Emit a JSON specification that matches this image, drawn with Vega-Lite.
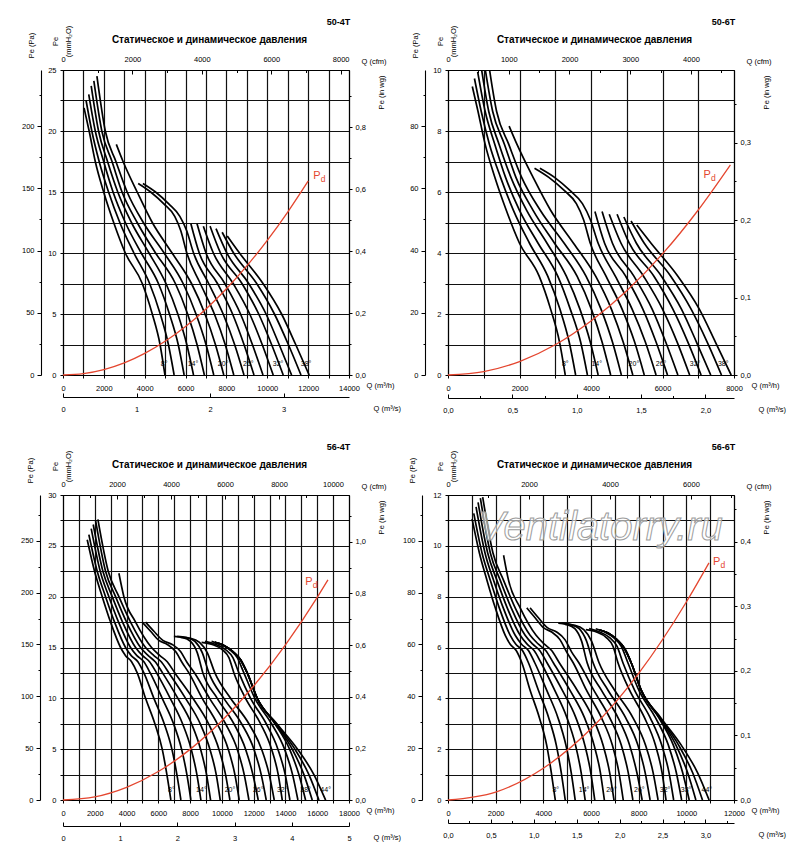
{
  "$schema": "https://vega.github.io/schema/vega-lite/v6.json",
  "background": "white",
  "padding": {"left": 20, "top": 17, "right": 5, "bottom": 5},
  "config": {
    "font": "Liberation Sans",
    "view": {"stroke": null},
    "axis": {
      "labelFont": "Liberation Sans", "titleFont": "Liberation Sans",
      "labelFontSize": 7.5, "titleFontSize": 7.5, "titleFontWeight": "normal",
      "labelColor": "#000", "titleColor": "#000", "domainColor": "#000", "tickColor": "#000",
      "gridColor": "#111111", "gridWidth": 1.2, "domainWidth": 1.1, "tickWidth": 1,
      "labelFlush": false, "labelOverlap": false, "titlePadding": 0
    },
    "text": {"font": "Liberation Sans"}
  },
  "datasets": {
    "c504": [
      {"a":8,"q":1030,"p":21.9},{"a":8,"q":1280,"p":20},{"a":8,"q":1580,"p":17.5},{"a":8,"q":1990,"p":15},{"a":8,"q":2480,"p":12.5},{"a":8,"q":3050,"p":10},{"a":8,"q":3880,"p":7.5},{"a":8,"q":4370,"p":5},{"a":8,"q":4750,"p":2.5},{"a":8,"q":4990,"p":0},
      {"a":10,"q":1130,"p":22.5},{"a":10,"q":1410,"p":20},{"a":10,"q":1770,"p":17.5},{"a":10,"q":2230,"p":15},{"a":10,"q":2780,"p":12.5},{"a":10,"q":3470,"p":10},{"a":10,"q":4240,"p":7.5},{"a":10,"q":4760,"p":5},{"a":10,"q":5160,"p":2.5},{"a":10,"q":5440,"p":0},
      {"a":12,"q":1260,"p":23},{"a":12,"q":1580,"p":20},{"a":12,"q":1990,"p":17.5},{"a":12,"q":2450,"p":15},{"a":12,"q":3050,"p":12.5},{"a":12,"q":3830,"p":10},{"a":12,"q":4670,"p":7.5},{"a":12,"q":5210,"p":5},{"a":12,"q":5640,"p":2.5},{"a":12,"q":5930,"p":0},
      {"a":14,"q":1380,"p":23.7},{"a":14,"q":1740,"p":20},{"a":14,"q":2180,"p":17.5},{"a":14,"q":2680,"p":15},{"a":14,"q":3350,"p":12.5},{"a":14,"q":4210,"p":10},{"a":14,"q":5040,"p":7.5},{"a":14,"q":5620,"p":5},{"a":14,"q":6060,"p":2.5},{"a":14,"q":6390,"p":0},
      {"a":16,"q":1510,"p":24.1},{"a":16,"q":1900,"p":20},{"a":16,"q":2400,"p":17.5},{"a":16,"q":2890,"p":15},{"a":16,"q":3630,"p":12.5},{"a":16,"q":4530,"p":10},{"a":16,"q":5500,"p":7.5},{"a":16,"q":6100,"p":5},{"a":16,"q":6560,"p":2.5},{"a":16,"q":6920,"p":0},
      {"a":18,"q":1660,"p":24.5},{"a":18,"q":2070,"p":20},{"a":18,"q":2590,"p":17.5},{"a":18,"q":3140,"p":15},{"a":18,"q":3930,"p":12.5},{"a":18,"q":4950,"p":10},{"a":18,"q":5880,"p":7.5},{"a":18,"q":6510,"p":5},{"a":18,"q":7000,"p":2.5},{"a":18,"q":7380,"p":0},
      {"a":20,"q":2610,"p":18.9},{"a":20,"q":2940,"p":17.5},{"a":20,"q":3630,"p":15},{"a":20,"q":4370,"p":12.5},{"a":20,"q":5340,"p":10},{"a":20,"q":6290,"p":7.5},{"a":20,"q":6950,"p":5},{"a":20,"q":7460,"p":2.5},{"a":20,"q":7870,"p":0},
      {"a":22,"q":3680,"p":15.7},{"a":22,"q":4290,"p":15},{"a":22,"q":4950,"p":14},{"a":22,"q":5470,"p":13},{"a":22,"q":5770,"p":11.8},{"a":22,"q":6060,"p":10},{"a":22,"q":6720,"p":7.5},{"a":22,"q":7410,"p":5},{"a":22,"q":7940,"p":2.5},{"a":22,"q":8360,"p":0},
      {"a":24,"q":3910,"p":15.7},{"a":24,"q":4530,"p":15},{"a":24,"q":5190,"p":14},{"a":24,"q":5720,"p":13},{"a":24,"q":6060,"p":11.8},{"a":24,"q":6390,"p":10},{"a":24,"q":7130,"p":7.5},{"a":24,"q":7840,"p":5},{"a":24,"q":8400,"p":2.5},{"a":24,"q":8860,"p":0},
      {"a":26,"q":6260,"p":12.4},{"a":26,"q":6670,"p":10},{"a":26,"q":7560,"p":7.5},{"a":26,"q":8300,"p":5},{"a":26,"q":8860,"p":2.5},{"a":26,"q":9350,"p":0},
      {"a":28,"q":6560,"p":12.4},{"a":28,"q":7000,"p":10},{"a":28,"q":7920,"p":7.5},{"a":28,"q":8690,"p":5},{"a":28,"q":9270,"p":2.5},{"a":28,"q":9790,"p":0},
      {"a":30,"q":6870,"p":12.2},{"a":30,"q":7360,"p":10},{"a":30,"q":8330,"p":7.5},{"a":30,"q":9140,"p":5},{"a":30,"q":9750,"p":2.5},{"a":30,"q":10290,"p":0},
      {"a":32,"q":7200,"p":12.2},{"a":32,"q":7710,"p":10},{"a":32,"q":8760,"p":7.5},{"a":32,"q":9580,"p":5},{"a":32,"q":10210,"p":2.5},{"a":32,"q":10780,"p":0},
      {"a":34,"q":7490,"p":12},{"a":34,"q":8020,"p":10},{"a":34,"q":9090,"p":7.5},{"a":34,"q":9940,"p":5},{"a":34,"q":10580,"p":2.5},{"a":34,"q":11190,"p":0},
      {"a":36,"q":7790,"p":11.7},{"a":36,"q":8350,"p":10},{"a":36,"q":9480,"p":7.5},{"a":36,"q":10350,"p":5},{"a":36,"q":11030,"p":2.5},{"a":36,"q":11650,"p":0},
      {"a":38,"q":8040,"p":11.4},{"a":38,"q":8640,"p":10},{"a":38,"q":9790,"p":7.5},{"a":38,"q":10700,"p":5},{"a":38,"q":11390,"p":2.5},{"a":38,"q":12050,"p":0}
    ],
    "c506": [
      {"a":8,"q":680,"p":9.46},{"a":8,"q":840,"p":8.64},{"a":8,"q":1040,"p":7.56},{"a":8,"q":1310,"p":6.48},{"a":8,"q":1630,"p":5.4},{"a":8,"q":2000,"p":4.32},{"a":8,"q":2550,"p":3.24},{"a":8,"q":2870,"p":2.16},{"a":8,"q":3120,"p":1.08},{"a":8,"q":3280,"p":0},
      {"a":10,"q":740,"p":9.72},{"a":10,"q":930,"p":8.64},{"a":10,"q":1160,"p":7.56},{"a":10,"q":1470,"p":6.48},{"a":10,"q":1830,"p":5.4},{"a":10,"q":2280,"p":4.32},{"a":10,"q":2790,"p":3.24},{"a":10,"q":3130,"p":2.16},{"a":10,"q":3390,"p":1.08},{"a":10,"q":3570,"p":0},
      {"a":12,"q":830,"p":9.94},{"a":12,"q":1040,"p":8.64},{"a":12,"q":1310,"p":7.56},{"a":12,"q":1610,"p":6.48},{"a":12,"q":2000,"p":5.4},{"a":12,"q":2520,"p":4.32},{"a":12,"q":3070,"p":3.24},{"a":12,"q":3420,"p":2.16},{"a":12,"q":3710,"p":1.08},{"a":12,"q":3900,"p":0},
      {"a":14,"q":910,"p":10.24},{"a":14,"q":1140,"p":8.64},{"a":14,"q":1430,"p":7.56},{"a":14,"q":1760,"p":6.48},{"a":14,"q":2200,"p":5.4},{"a":14,"q":2770,"p":4.32},{"a":14,"q":3310,"p":3.24},{"a":14,"q":3690,"p":2.16},{"a":14,"q":3980,"p":1.08},{"a":14,"q":4200,"p":0},
      {"a":16,"q":990,"p":10.41},{"a":16,"q":1250,"p":8.64},{"a":16,"q":1580,"p":7.56},{"a":16,"q":1900,"p":6.48},{"a":16,"q":2380,"p":5.4},{"a":16,"q":2980,"p":4.32},{"a":16,"q":3610,"p":3.24},{"a":16,"q":4010,"p":2.16},{"a":16,"q":4310,"p":1.08},{"a":16,"q":4550,"p":0},
      {"a":18,"q":1090,"p":10.58},{"a":18,"q":1360,"p":8.64},{"a":18,"q":1700,"p":7.56},{"a":18,"q":2060,"p":6.48},{"a":18,"q":2580,"p":5.4},{"a":18,"q":3250,"p":4.32},{"a":18,"q":3860,"p":3.24},{"a":18,"q":4280,"p":2.16},{"a":18,"q":4600,"p":1.08},{"a":18,"q":4850,"p":0},
      {"a":20,"q":1710,"p":8.16},{"a":20,"q":1930,"p":7.56},{"a":20,"q":2380,"p":6.48},{"a":20,"q":2870,"p":5.4},{"a":20,"q":3510,"p":4.32},{"a":20,"q":4130,"p":3.24},{"a":20,"q":4570,"p":2.16},{"a":20,"q":4900,"p":1.08},{"a":20,"q":5170,"p":0},
      {"a":22,"q":2420,"p":6.78},{"a":22,"q":2820,"p":6.48},{"a":22,"q":3250,"p":6.05},{"a":22,"q":3590,"p":5.62},{"a":22,"q":3790,"p":5.1},{"a":22,"q":3980,"p":4.32},{"a":22,"q":4420,"p":3.24},{"a":22,"q":4870,"p":2.16},{"a":22,"q":5220,"p":1.08},{"a":22,"q":5490,"p":0},
      {"a":24,"q":2570,"p":6.78},{"a":24,"q":2980,"p":6.48},{"a":24,"q":3410,"p":6.05},{"a":24,"q":3760,"p":5.62},{"a":24,"q":3980,"p":5.1},{"a":24,"q":4200,"p":4.32},{"a":24,"q":4680,"p":3.24},{"a":24,"q":5150,"p":2.16},{"a":24,"q":5520,"p":1.08},{"a":24,"q":5820,"p":0},
      {"a":26,"q":4110,"p":5.36},{"a":26,"q":4380,"p":4.32},{"a":26,"q":4970,"p":3.24},{"a":26,"q":5450,"p":2.16},{"a":26,"q":5820,"p":1.08},{"a":26,"q":6140,"p":0},
      {"a":28,"q":4310,"p":5.36},{"a":28,"q":4600,"p":4.32},{"a":28,"q":5200,"p":3.24},{"a":28,"q":5710,"p":2.16},{"a":28,"q":6090,"p":1.08},{"a":28,"q":6430,"p":0},
      {"a":30,"q":4510,"p":5.27},{"a":30,"q":4840,"p":4.32},{"a":30,"q":5470,"p":3.24},{"a":30,"q":6000,"p":2.16},{"a":30,"q":6410,"p":1.08},{"a":30,"q":6760,"p":0},
      {"a":32,"q":4730,"p":5.27},{"a":32,"q":5070,"p":4.32},{"a":32,"q":5760,"p":3.24},{"a":32,"q":6290,"p":2.16},{"a":32,"q":6710,"p":1.08},{"a":32,"q":7080,"p":0},
      {"a":34,"q":4920,"p":5.18},{"a":34,"q":5270,"p":4.32},{"a":34,"q":5970,"p":3.24},{"a":34,"q":6530,"p":2.16},{"a":34,"q":6950,"p":1.08},{"a":34,"q":7350,"p":0},
      {"a":36,"q":5120,"p":5.05},{"a":36,"q":5490,"p":4.32},{"a":36,"q":6230,"p":3.24},{"a":36,"q":6800,"p":2.16},{"a":36,"q":7250,"p":1.08},{"a":36,"q":7650,"p":0},
      {"a":38,"q":5280,"p":4.92},{"a":38,"q":5680,"p":4.32},{"a":38,"q":6430,"p":3.24},{"a":38,"q":7030,"p":2.16},{"a":38,"q":7480,"p":1.08},{"a":38,"q":7920,"p":0}
    ],
    "c564": [
      {"a":8,"q":1525,"p":25.6},{"a":8,"q":1986,"p":22.5},{"a":8,"q":2469,"p":20},{"a":8,"q":2993,"p":17.5},{"a":8,"q":3623,"p":15},{"a":8,"q":3937,"p":14.2},{"a":8,"q":4315,"p":13.6},{"a":8,"q":4672,"p":12.5},{"a":8,"q":5196,"p":10},{"a":8,"q":5783,"p":7.5},{"a":8,"q":6245,"p":5},{"a":8,"q":6539,"p":2.5},{"a":8,"q":6790,"p":0},
      {"a":10,"q":1629,"p":26.1},{"a":10,"q":2154,"p":22.5},{"a":10,"q":2678,"p":20},{"a":10,"q":3245,"p":17.5},{"a":10,"q":3937,"p":15},{"a":10,"q":4294,"p":14.2},{"a":10,"q":4713,"p":13.6},{"a":10,"q":5091,"p":12.5},{"a":10,"q":5721,"p":10},{"a":10,"q":6371,"p":7.5},{"a":10,"q":6853,"p":5},{"a":10,"q":7168,"p":2.5},{"a":10,"q":7420,"p":0},
      {"a":12,"q":1776,"p":26.7},{"a":12,"q":2343,"p":22.5},{"a":12,"q":2888,"p":20},{"a":12,"q":3497,"p":17.5},{"a":12,"q":4252,"p":15},{"a":12,"q":4651,"p":14.2},{"a":12,"q":5091,"p":13.6},{"a":12,"q":5490,"p":12.5},{"a":12,"q":6245,"p":10},{"a":12,"q":6958,"p":7.5},{"a":12,"q":7462,"p":5},{"a":12,"q":7798,"p":2.5},{"a":12,"q":8049,"p":0},
      {"a":14,"q":1902,"p":27.1},{"a":14,"q":2511,"p":22.5},{"a":14,"q":3098,"p":20},{"a":14,"q":3748,"p":17.5},{"a":14,"q":4567,"p":15},{"a":14,"q":5007,"p":14.2},{"a":14,"q":5448,"p":13.6},{"a":14,"q":5888,"p":12.5},{"a":14,"q":6749,"p":10},{"a":14,"q":7525,"p":7.5},{"a":14,"q":8070,"p":5},{"a":14,"q":8427,"p":2.5},{"a":14,"q":8679,"p":0},
      {"a":16,"q":2049,"p":27.5},{"a":16,"q":2678,"p":22.5},{"a":16,"q":3308,"p":20},{"a":16,"q":4000,"p":17.5},{"a":16,"q":4881,"p":15},{"a":16,"q":5364,"p":14.2},{"a":16,"q":5804,"p":13.6},{"a":16,"q":6266,"p":12.5},{"a":16,"q":7231,"p":10},{"a":16,"q":8091,"p":7.5},{"a":16,"q":8658,"p":5},{"a":16,"q":9035,"p":2.5},{"a":16,"q":9287,"p":0},
      {"a":18,"q":2196,"p":27.6},{"a":18,"q":2846,"p":22.5},{"a":18,"q":3518,"p":20},{"a":18,"q":4252,"p":17.5},{"a":18,"q":5196,"p":15},{"a":18,"q":5721,"p":14.2},{"a":18,"q":6182,"p":13.6},{"a":18,"q":6665,"p":12.5},{"a":18,"q":7714,"p":10},{"a":18,"q":8637,"p":7.5},{"a":18,"q":9245,"p":5},{"a":18,"q":9644,"p":2.5},{"a":18,"q":9896,"p":0},
      {"a":20,"q":3518,"p":22.3},{"a":20,"q":3832,"p":20},{"a":20,"q":4567,"p":17.5},{"a":20,"q":5574,"p":15},{"a":20,"q":6098,"p":14.2},{"a":20,"q":6560,"p":13.6},{"a":20,"q":7042,"p":12.5},{"a":20,"q":8175,"p":10},{"a":20,"q":9161,"p":7.5},{"a":20,"q":9812,"p":5},{"a":20,"q":10231,"p":2.5},{"a":20,"q":10504,"p":0},
      {"a":22,"q":4986,"p":17.5},{"a":22,"q":5511,"p":16.6},{"a":22,"q":6035,"p":15.7},{"a":22,"q":6560,"p":15.3},{"a":22,"q":7084,"p":14.6},{"a":22,"q":7504,"p":13.5},{"a":22,"q":7923,"p":12.5},{"a":22,"q":8763,"p":10},{"a":22,"q":9707,"p":7.5},{"a":22,"q":10399,"p":5},{"a":22,"q":10819,"p":2.5},{"a":22,"q":11091,"p":0},
      {"a":24,"q":5196,"p":17.5},{"a":24,"q":5721,"p":16.6},{"a":24,"q":6287,"p":15.7},{"a":24,"q":6874,"p":15.3},{"a":24,"q":7399,"p":14.6},{"a":24,"q":7819,"p":13.5},{"a":24,"q":8280,"p":12.5},{"a":24,"q":9224,"p":10},{"a":24,"q":10231,"p":7.5},{"a":24,"q":10966,"p":5},{"a":24,"q":11406,"p":2.5},{"a":24,"q":11700,"p":0},
      {"a":26,"q":6979,"p":16.1},{"a":26,"q":7504,"p":16},{"a":26,"q":8028,"p":15.6},{"a":26,"q":8448,"p":14.5},{"a":26,"q":8805,"p":12.5},{"a":26,"q":9707,"p":10},{"a":26,"q":10756,"p":7.5},{"a":26,"q":11490,"p":5},{"a":26,"q":11952,"p":2.5},{"a":26,"q":12287,"p":0},
      {"a":28,"q":7189,"p":16.1},{"a":28,"q":7756,"p":16},{"a":28,"q":8301,"p":15.6},{"a":28,"q":8763,"p":14.5},{"a":28,"q":9182,"p":12.5},{"a":28,"q":10126,"p":10},{"a":28,"q":11238,"p":7.5},{"a":28,"q":12015,"p":5},{"a":28,"q":12476,"p":2.5},{"a":28,"q":12791,"p":0},
      {"a":30,"q":7399,"p":16},{"a":30,"q":8028,"p":15.9},{"a":30,"q":8595,"p":15.5},{"a":30,"q":9077,"p":14.5},{"a":30,"q":9560,"p":12.5},{"a":30,"q":10546,"p":10},{"a":30,"q":11700,"p":7.5},{"a":30,"q":12497,"p":5},{"a":30,"q":12980,"p":2.5},{"a":30,"q":13294,"p":0},
      {"a":32,"q":8721,"p":15.5},{"a":32,"q":9392,"p":15.3},{"a":32,"q":10021,"p":14.8},{"a":32,"q":10441,"p":14},{"a":32,"q":10756,"p":12.5},{"a":32,"q":11490,"p":10},{"a":32,"q":12434,"p":7.5},{"a":32,"q":13126,"p":5},{"a":32,"q":13546,"p":2.5},{"a":32,"q":13798,"p":0},
      {"a":34,"q":8930,"p":15.6},{"a":34,"q":9602,"p":15.3},{"a":34,"q":10231,"p":14.8},{"a":34,"q":10693,"p":14},{"a":34,"q":11070,"p":12.5},{"a":34,"q":11805,"p":10},{"a":34,"q":12791,"p":7.5},{"a":34,"q":13525,"p":5},{"a":34,"q":13987,"p":2.5},{"a":34,"q":14280,"p":0},
      {"a":36,"q":9350,"p":15.6},{"a":36,"q":9917,"p":15.3},{"a":36,"q":10483,"p":14.8},{"a":36,"q":10966,"p":14},{"a":36,"q":11385,"p":12.5},{"a":36,"q":12077,"p":10},{"a":36,"q":13126,"p":7.5},{"a":36,"q":13945,"p":5},{"a":36,"q":14448,"p":2.5},{"a":36,"q":14784,"p":0},
      {"a":38,"q":9560,"p":15.5},{"a":38,"q":10126,"p":15.2},{"a":38,"q":10693,"p":14.6},{"a":38,"q":11175,"p":13.8},{"a":38,"q":11595,"p":12.5},{"a":38,"q":12224,"p":10},{"a":38,"q":13336,"p":7.5},{"a":38,"q":14259,"p":5},{"a":38,"q":14847,"p":2.5},{"a":38,"q":15266,"p":0},
      {"a":40,"q":9560,"p":15.5},{"a":40,"q":10126,"p":15.2},{"a":40,"q":10693,"p":14.6},{"a":40,"q":11175,"p":13.8},{"a":40,"q":11595,"p":12.5},{"a":40,"q":12224,"p":10},{"a":40,"q":13378,"p":7.5},{"a":40,"q":14427,"p":5},{"a":40,"q":15162,"p":2.5},{"a":40,"q":15686,"p":0},
      {"a":42,"q":9560,"p":15.5},{"a":42,"q":10126,"p":15.2},{"a":42,"q":10693,"p":14.6},{"a":42,"q":11175,"p":13.8},{"a":42,"q":11595,"p":12.5},{"a":42,"q":12224,"p":10},{"a":42,"q":13420,"p":7.5},{"a":42,"q":14595,"p":5},{"a":42,"q":15476,"p":2.5},{"a":42,"q":16106,"p":0},
      {"a":44,"q":9560,"p":15.5},{"a":44,"q":10126,"p":15.2},{"a":44,"q":10693,"p":14.6},{"a":44,"q":11175,"p":13.8},{"a":44,"q":11595,"p":12.5},{"a":44,"q":12224,"p":10},{"a":44,"q":13462,"p":7.5},{"a":44,"q":14763,"p":5},{"a":44,"q":15791,"p":2.5},{"a":44,"q":16525,"p":0}
    ],
    "c566": [
      {"a":8,"q":1011,"p":11.06},{"a":8,"q":1317,"p":9.72},{"a":8,"q":1637,"p":8.64},{"a":8,"q":1984,"p":7.56},{"a":8,"q":2402,"p":6.48},{"a":8,"q":2610,"p":6.13},{"a":8,"q":2861,"p":5.88},{"a":8,"q":3098,"p":5.4},{"a":8,"q":3445,"p":4.32},{"a":8,"q":3834,"p":3.24},{"a":8,"q":4140,"p":2.16},{"a":8,"q":4335,"p":1.08},{"a":8,"q":4502,"p":0},
      {"a":10,"q":1080,"p":11.28},{"a":10,"q":1428,"p":9.72},{"a":10,"q":1776,"p":8.64},{"a":10,"q":2151,"p":7.56},{"a":10,"q":2610,"p":6.48},{"a":10,"q":2847,"p":6.13},{"a":10,"q":3125,"p":5.88},{"a":10,"q":3375,"p":5.4},{"a":10,"q":3793,"p":4.32},{"a":10,"q":4224,"p":3.24},{"a":10,"q":4544,"p":2.16},{"a":10,"q":4752,"p":1.08},{"a":10,"q":4919,"p":0},
      {"a":12,"q":1177,"p":11.53},{"a":12,"q":1553,"p":9.72},{"a":12,"q":1915,"p":8.64},{"a":12,"q":2318,"p":7.56},{"a":12,"q":2819,"p":6.48},{"a":12,"q":3084,"p":6.13},{"a":12,"q":3375,"p":5.88},{"a":12,"q":3640,"p":5.4},{"a":12,"q":4140,"p":4.32},{"a":12,"q":4613,"p":3.24},{"a":12,"q":4947,"p":2.16},{"a":12,"q":5170,"p":1.08},{"a":12,"q":5336,"p":0},
      {"a":14,"q":1261,"p":11.71},{"a":14,"q":1665,"p":9.72},{"a":14,"q":2054,"p":8.64},{"a":14,"q":2485,"p":7.56},{"a":14,"q":3028,"p":6.48},{"a":14,"q":3320,"p":6.13},{"a":14,"q":3612,"p":5.88},{"a":14,"q":3904,"p":5.4},{"a":14,"q":4475,"p":4.32},{"a":14,"q":4989,"p":3.24},{"a":14,"q":5350,"p":2.16},{"a":14,"q":5587,"p":1.08},{"a":14,"q":5754,"p":0},
      {"a":16,"q":1358,"p":11.88},{"a":16,"q":1776,"p":9.72},{"a":16,"q":2193,"p":8.64},{"a":16,"q":2652,"p":7.56},{"a":16,"q":3236,"p":6.48},{"a":16,"q":3556,"p":6.13},{"a":16,"q":3848,"p":5.88},{"a":16,"q":4154,"p":5.4},{"a":16,"q":4794,"p":4.32},{"a":16,"q":5364,"p":3.24},{"a":16,"q":5740,"p":2.16},{"a":16,"q":5990,"p":1.08},{"a":16,"q":6157,"p":0},
      {"a":18,"q":1456,"p":11.92},{"a":18,"q":1887,"p":9.72},{"a":18,"q":2332,"p":8.64},{"a":18,"q":2819,"p":7.56},{"a":18,"q":3445,"p":6.48},{"a":18,"q":3793,"p":6.13},{"a":18,"q":4099,"p":5.88},{"a":18,"q":4419,"p":5.4},{"a":18,"q":5114,"p":4.32},{"a":18,"q":5726,"p":3.24},{"a":18,"q":6129,"p":2.16},{"a":18,"q":6394,"p":1.08},{"a":18,"q":6561,"p":0},
      {"a":20,"q":2332,"p":9.63},{"a":20,"q":2541,"p":8.64},{"a":20,"q":3028,"p":7.56},{"a":20,"q":3696,"p":6.48},{"a":20,"q":4043,"p":6.13},{"a":20,"q":4349,"p":5.88},{"a":20,"q":4669,"p":5.4},{"a":20,"q":5420,"p":4.32},{"a":20,"q":6074,"p":3.24},{"a":20,"q":6505,"p":2.16},{"a":20,"q":6783,"p":1.08},{"a":20,"q":6964,"p":0},
      {"a":22,"q":3306,"p":7.56},{"a":22,"q":3654,"p":7.17},{"a":22,"q":4001,"p":6.78},{"a":22,"q":4349,"p":6.61},{"a":22,"q":4697,"p":6.31},{"a":22,"q":4975,"p":5.83},{"a":22,"q":5253,"p":5.4},{"a":22,"q":5810,"p":4.32},{"a":22,"q":6436,"p":3.24},{"a":22,"q":6895,"p":2.16},{"a":22,"q":7173,"p":1.08},{"a":22,"q":7353,"p":0},
      {"a":24,"q":3445,"p":7.56},{"a":24,"q":3793,"p":7.17},{"a":24,"q":4168,"p":6.78},{"a":24,"q":4557,"p":6.61},{"a":24,"q":4906,"p":6.31},{"a":24,"q":5184,"p":5.83},{"a":24,"q":5490,"p":5.4},{"a":24,"q":6116,"p":4.32},{"a":24,"q":6783,"p":3.24},{"a":24,"q":7270,"p":2.16},{"a":24,"q":7562,"p":1.08},{"a":24,"q":7757,"p":0},
      {"a":26,"q":4627,"p":6.96},{"a":26,"q":4975,"p":6.91},{"a":26,"q":5323,"p":6.74},{"a":26,"q":5601,"p":6.26},{"a":26,"q":5838,"p":5.4},{"a":26,"q":6436,"p":4.32},{"a":26,"q":7131,"p":3.24},{"a":26,"q":7618,"p":2.16},{"a":26,"q":7924,"p":1.08},{"a":26,"q":8146,"p":0},
      {"a":28,"q":4766,"p":6.96},{"a":28,"q":5142,"p":6.91},{"a":28,"q":5504,"p":6.74},{"a":28,"q":5810,"p":6.26},{"a":28,"q":6088,"p":5.4},{"a":28,"q":6714,"p":4.32},{"a":28,"q":7451,"p":3.24},{"a":28,"q":7966,"p":2.16},{"a":28,"q":8272,"p":1.08},{"a":28,"q":8480,"p":0},
      {"a":30,"q":4906,"p":6.91},{"a":30,"q":5323,"p":6.87},{"a":30,"q":5698,"p":6.7},{"a":30,"q":6018,"p":6.26},{"a":30,"q":6338,"p":5.4},{"a":30,"q":6992,"p":4.32},{"a":30,"q":7757,"p":3.24},{"a":30,"q":8286,"p":2.16},{"a":30,"q":8606,"p":1.08},{"a":30,"q":8814,"p":0},
      {"a":32,"q":5782,"p":6.7},{"a":32,"q":6227,"p":6.61},{"a":32,"q":6644,"p":6.39},{"a":32,"q":6922,"p":6.05},{"a":32,"q":7131,"p":5.4},{"a":32,"q":7618,"p":4.32},{"a":32,"q":8244,"p":3.24},{"a":32,"q":8703,"p":2.16},{"a":32,"q":8981,"p":1.08},{"a":32,"q":9148,"p":0},
      {"a":34,"q":5921,"p":6.74},{"a":34,"q":6366,"p":6.61},{"a":34,"q":6783,"p":6.39},{"a":34,"q":7089,"p":6.05},{"a":34,"q":7339,"p":5.4},{"a":34,"q":7827,"p":4.32},{"a":34,"q":8480,"p":3.24},{"a":34,"q":8967,"p":2.16},{"a":34,"q":9273,"p":1.08},{"a":34,"q":9468,"p":0},
      {"a":36,"q":6199,"p":6.74},{"a":36,"q":6575,"p":6.61},{"a":36,"q":6950,"p":6.39},{"a":36,"q":7270,"p":6.05},{"a":36,"q":7548,"p":5.4},{"a":36,"q":8007,"p":4.32},{"a":36,"q":8703,"p":3.24},{"a":36,"q":9245,"p":2.16},{"a":36,"q":9579,"p":1.08},{"a":36,"q":9802,"p":0},
      {"a":38,"q":6338,"p":6.7},{"a":38,"q":6714,"p":6.57},{"a":38,"q":7089,"p":6.31},{"a":38,"q":7409,"p":5.96},{"a":38,"q":7687,"p":5.4},{"a":38,"q":8105,"p":4.32},{"a":38,"q":8842,"p":3.24},{"a":38,"q":9454,"p":2.16},{"a":38,"q":9844,"p":1.08},{"a":38,"q":10121,"p":0},
      {"a":40,"q":6338,"p":6.7},{"a":40,"q":6714,"p":6.57},{"a":40,"q":7089,"p":6.31},{"a":40,"q":7409,"p":5.96},{"a":40,"q":7687,"p":5.4},{"a":40,"q":8105,"p":4.32},{"a":40,"q":8870,"p":3.24},{"a":40,"q":9565,"p":2.16},{"a":40,"q":10052,"p":1.08},{"a":40,"q":10400,"p":0},
      {"a":42,"q":6338,"p":6.7},{"a":42,"q":6714,"p":6.57},{"a":42,"q":7089,"p":6.31},{"a":42,"q":7409,"p":5.96},{"a":42,"q":7687,"p":5.4},{"a":42,"q":8105,"p":4.32},{"a":42,"q":8897,"p":3.24},{"a":42,"q":9676,"p":2.16},{"a":42,"q":10261,"p":1.08},{"a":42,"q":10678,"p":0},
      {"a":44,"q":6338,"p":6.7},{"a":44,"q":6714,"p":6.57},{"a":44,"q":7089,"p":6.31},{"a":44,"q":7409,"p":5.96},{"a":44,"q":7687,"p":5.4},{"a":44,"q":8105,"p":4.32},{"a":44,"q":8925,"p":3.24},{"a":44,"q":9788,"p":2.16},{"a":44,"q":10469,"p":1.08},{"a":44,"q":10956,"p":0}
    ],
    "pd504": [{"q":0,"p":0},{"q":1000,"p":0.11},{"q":2000,"p":0.44},{"q":3000,"p":0.99},{"q":4000,"p":1.77},{"q":5000,"p":2.76},{"q":6000,"p":3.97},{"q":7000,"p":5.41},{"q":8000,"p":7.07},{"q":9000,"p":8.94},{"q":10000,"p":11.04},{"q":11000,"p":13.36},{"q":12000,"p":15.9}],
    "pd506": [{"q":0,"p":0},{"q":1000,"p":0.11},{"q":2000,"p":0.44},{"q":3000,"p":0.99},{"q":4000,"p":1.77},{"q":5000,"p":2.76},{"q":6000,"p":3.97},{"q":7000,"p":5.41},{"q":7900,"p":6.89}],
    "pd564": [{"q":0,"p":0},{"q":2000,"p":0.31},{"q":4000,"p":1.25},{"q":6000,"p":2.8},{"q":8000,"p":4.98},{"q":10000,"p":7.79},{"q":12000,"p":11.21},{"q":14000,"p":15.26},{"q":16000,"p":19.93},{"q":16680,"p":21.66}],
    "pd566": [{"q":0,"p":0},{"q":2000,"p":0.31},{"q":4000,"p":1.25},{"q":6000,"p":2.8},{"q":8000,"p":4.98},{"q":10000,"p":7.79},{"q":10950,"p":9.33}],
    "l504": [{"t":"8°","q":4950,"p":0.9},{"t":"14°","q":6360,"p":0.9},{"t":"20°","q":7840,"p":0.9},{"t":"26°","q":9070,"p":0.9},{"t":"32°","q":10530,"p":0.9},{"t":"38°","q":11900,"p":0.9}],
    "l506": [{"t":"8°","q":3280,"p":0.35},{"t":"14°","q":4160,"p":0.35},{"t":"20°","q":5200,"p":0.35},{"t":"26°","q":5960,"p":0.35},{"t":"32°","q":6910,"p":0.35},{"t":"38°","q":7700,"p":0.35}],
    "l564": [{"t":"8°","q":6820,"p":1},{"t":"14°","q":8710,"p":1},{"t":"20°","q":10510,"p":1},{"t":"26°","q":12290,"p":1},{"t":"32°","q":13800,"p":1},{"t":"38°","q":15270,"p":1},{"t":"44°","q":16530,"p":1}],
    "l566": [{"t":"8°","q":4520,"p":0.4},{"t":"14°","q":5710,"p":0.4},{"t":"20°","q":6860,"p":0.4},{"t":"26°","q":8030,"p":0.4},{"t":"32°","q":9110,"p":0.4},{"t":"38°","q":9990,"p":0.4},{"t":"44°","q":10860,"p":0.4}],
    "pl504": [{"q":12250,"p":16.3}],
    "pl506": [{"q":7150,"p":6.55}],
    "pl564": [{"q":15250,"p":21.4}],
    "pl566": [{"q":11120,"p":9.35}],
    "wm566": [{"t":"Ventilatorry.ru","q":6400,"p":10.7}]
  },
  "columns": 2,
  "bounds": "flush",
  "spacing": {"row": 120, "column": 99},
  "concat": [
    {
      "width": 286, "height": 305,
      "resolve": {"scale": {"x": "independent", "y": "independent"}},
      "layer": [
        {"data": {"name": "c504"},
         "mark": {"type": "line", "color": "#000", "strokeWidth": 1.7, "interpolate": "monotone", "clip": true},
         "encoding": {
           "x": {"field": "q", "type": "quantitative", "scale": {"domain": [0, 14000], "nice": false},
             "axis": {"orient": "bottom", "values": [0,1000,2000,3000,4000,5000,6000,7000,8000,9000,10000,11000,12000,13000,14000], "format": "d", "labelExpr": "datum.value % 2000 == 0 ? datum.label : ''", "grid": true, "tickSize": 3, "labelPadding": 6, "title": "Q (m³/h)", "titleX": 303, "titleY": 10, "titleAlign": "left", "titleBaseline": "middle", "titleAngle": 0}},
           "y": {"field": "p", "type": "quantitative", "scale": {"domain": [0, 25], "nice": false},
             "axis": {"orient": "left", "values": [0,2.5,5,7.5,10,12.5,15,17.5,20,22.5,25], "labelExpr": "datum.value % 5 == 0 ? datum.label : ''", "grid": true, "tickSize": 3, "labelPadding": 4, "title": ["Pe", "(mmH₂O)"], "titleAngle": -90, "titleX": -8, "titleY": -29, "titleAlign": "center", "titleBaseline": "middle", "titleLineHeight": 13}},
           "detail": {"field": "a", "type": "nominal"}
         }},
        {"data": {"name": "pd504"},
         "mark": {"type": "line", "color": "#e4462f", "strokeWidth": 1.3, "interpolate": "monotone"},
         "encoding": {
           "x": {"field": "q", "type": "quantitative", "scale": {"domain": [0, 14000], "nice": false}, "axis": null},
           "y": {"field": "p", "type": "quantitative", "scale": {"domain": [0, 25], "nice": false}, "axis": null}
         }},
        {"data": {"name": "l504"},
         "mark": {"type": "text", "fontSize": 7, "align": "center", "baseline": "middle", "color": "#000"},
         "encoding": {
           "x": {"field": "q", "type": "quantitative", "scale": {"domain": [0, 14000], "nice": false}, "axis": null},
           "y": {"field": "p", "type": "quantitative", "scale": {"domain": [0, 25], "nice": false}, "axis": null},
           "text": {"field": "t"}
         }},
        {"data": {"name": "pl504"},
         "mark": {"type": "text", "text": "P", "fontSize": 11, "align": "left", "baseline": "middle", "color": "#e4462f"},
         "encoding": {
           "x": {"field": "q", "type": "quantitative", "scale": {"domain": [0, 14000], "nice": false}, "axis": null},
           "y": {"field": "p", "type": "quantitative", "scale": {"domain": [0, 25], "nice": false}, "axis": null}
         }},
        {"data": {"name": "pl504"},
         "mark": {"type": "text", "text": "d", "fontSize": 8.5, "align": "left", "baseline": "middle", "dx": 7.5, "dy": 3, "color": "#e4462f"},
         "encoding": {
           "x": {"field": "q", "type": "quantitative", "scale": {"domain": [0, 14000], "nice": false}, "axis": null},
           "y": {"field": "p", "type": "quantitative", "scale": {"domain": [0, 25], "nice": false}, "axis": null}
         }},
        {"data": {"values": [{}]}, "mark": {"type": "point", "opacity": 0},
         "encoding": {
           "x": {"datum": 0, "type": "quantitative", "scale": {"domain": [0, 1]}, "axis": null},
           "y": {"datum": 0, "type": "quantitative", "scale": {"domain": [0, 245.17], "nice": false},
           "axis": {"orient": "left", "offset": 22, "values": [0,25,50,75,100,125,150,175,200,225], "labelExpr": "datum.value % 50 == 0 ? datum.label : ''", "tickSize": {"condition": {"test": "datum.value % 50 == 0", "value": 4}, "value": 2}, "labelPadding": 3, "grid": false, "title": "Pe (Pa)", "titleAngle": -90, "titleX": -10, "titleY": -25, "titleAlign": "center", "titleBaseline": "middle"}}}},
        {"data": {"values": [{}]}, "mark": {"type": "point", "opacity": 0},
         "encoding": {
           "x": {"datum": 0, "type": "quantitative", "scale": {"domain": [0, 1]}, "axis": null},
           "y": {"datum": 0, "type": "quantitative", "scale": {"domain": [0, 0.98425], "nice": false},
           "axis": {"orient": "right", "values": [0,0.1,0.2,0.3,0.4,0.5,0.6,0.7,0.8,0.9], "labelExpr": "round(datum.value*10) % 2 == 0 ? replace(format(datum.value, '.1f'), '.', ',') : ''", "tickSize": {"condition": {"test": "round(datum.value*10) % 2 == 0", "value": 3}, "value": 2}, "labelPadding": 3, "grid": false, "title": "Pe (in wg)", "titleAngle": -90, "titleX": 32, "titleY": 22, "titleAlign": "center", "titleBaseline": "middle"}}}},
        {"data": {"values": [{}]}, "mark": {"type": "point", "opacity": 0},
         "encoding": {
           "y": {"datum": 0, "type": "quantitative", "scale": {"domain": [0, 1]}, "axis": null},
           "x": {"datum": 0, "type": "quantitative", "scale": {"domain": [0, 8240], "nice": false},
           "axis": {"orient": "top", "values": [0,1000,2000,3000,4000,5000,6000,7000,8000], "format": "d", "labelExpr": "datum.value % 2000 == 0 ? datum.label : ''", "tickSize": {"condition": {"test": "datum.value % 2000 == 0", "value": -4}, "value": -2.5}, "labelPadding": 11, "grid": false, "title": "Q (cfm)", "titleX": 298, "titleY": -9, "titleAlign": "left", "titleBaseline": "middle"}}}},
        {"data": {"values": [{}]}, "mark": {"type": "point", "opacity": 0},
         "encoding": {
           "y": {"datum": 0, "type": "quantitative", "scale": {"domain": [0, 1]}, "axis": null},
           "x": {"datum": 0, "type": "quantitative", "scale": {"domain": [0, 3.8889], "nice": false},
           "axis": {"orient": "bottom", "offset": 22, "values": [0,0.5,1,1.5,2,2.5,3,3.5], "format": "d", "labelExpr": "datum.value % 1 == 0 ? datum.label : ''", "tickSize": {"condition": {"test": "datum.value % 1 == 0", "value": -4}, "value": -2.5}, "labelPadding": 12, "grid": false, "title": "Q (m³/s)", "titleX": 310, "titleY": 11, "titleAlign": "left", "titleBaseline": "middle"}}}},
        {"data": {"values": [{}]}, "mark": {"type": "point", "opacity": 0},
         "encoding": {
           "y": {"datum": 0, "type": "quantitative", "scale": {"domain": [0, 1]}, "axis": null},
           "x": {"datum": 0, "type": "quantitative", "scale": {"domain": [0, 1], "nice": false},
           "axis": {"orient": "top", "labels": false, "ticks": false, "domain": false, "grid": false, "title": "50-4T", "titleX": 275, "titleY": -49, "titleFontSize": 9, "titleFontWeight": "bold", "titleAlign": "center", "titleBaseline": "middle"}}}},
        {"data": {"values": [{}]}, "mark": {"type": "point", "opacity": 0},
         "encoding": {
           "y": {"datum": 0, "type": "quantitative", "scale": {"domain": [0, 1]}, "axis": null},
           "x": {"datum": 0, "type": "quantitative", "scale": {"domain": [0, 2], "nice": false},
           "axis": {"orient": "top", "labels": false, "ticks": false, "domain": false, "grid": false, "title": "Статическое и динамическое давления", "titleX": 146, "titleY": -31, "titleFontSize": 10, "titleFontWeight": "bold", "titleAlign": "center", "titleBaseline": "middle"}}}}
      ]
    },
    {
      "width": 286, "height": 305,
      "resolve": {"scale": {"x": "independent", "y": "independent"}},
      "layer": [
        {"data": {"name": "c506"},
         "mark": {"type": "line", "color": "#000", "strokeWidth": 1.7, "interpolate": "monotone", "clip": true},
         "encoding": {
           "x": {"field": "q", "type": "quantitative", "scale": {"domain": [0, 8000], "nice": false},
             "axis": {"orient": "bottom", "values": [0,1000,2000,3000,4000,5000,6000,7000,8000], "format": "d", "labelExpr": "datum.value % 2000 == 0 ? datum.label : ''", "grid": true, "tickSize": 3, "labelPadding": 6, "title": "Q (m³/h)", "titleX": 303, "titleY": 10, "titleAlign": "left", "titleBaseline": "middle", "titleAngle": 0}},
           "y": {"field": "p", "type": "quantitative", "scale": {"domain": [0, 10], "nice": false},
             "axis": {"orient": "left", "values": [0,1,2,3,4,5,6,7,8,9,10], "labelExpr": "datum.value % 2 == 0 ? datum.label : ''", "grid": true, "tickSize": 3, "labelPadding": 4, "title": ["Pe", "(mmH₂O)"], "titleAngle": -90, "titleX": -8, "titleY": -29, "titleAlign": "center", "titleBaseline": "middle", "titleLineHeight": 13}},
           "detail": {"field": "a", "type": "nominal"}
         }},
        {"data": {"name": "pd506"},
         "mark": {"type": "line", "color": "#e4462f", "strokeWidth": 1.3, "interpolate": "monotone"},
         "encoding": {
           "x": {"field": "q", "type": "quantitative", "scale": {"domain": [0, 8000], "nice": false}, "axis": null},
           "y": {"field": "p", "type": "quantitative", "scale": {"domain": [0, 10], "nice": false}, "axis": null}
         }},
        {"data": {"name": "l506"},
         "mark": {"type": "text", "fontSize": 7, "align": "center", "baseline": "middle", "color": "#000"},
         "encoding": {
           "x": {"field": "q", "type": "quantitative", "scale": {"domain": [0, 8000], "nice": false}, "axis": null},
           "y": {"field": "p", "type": "quantitative", "scale": {"domain": [0, 10], "nice": false}, "axis": null},
           "text": {"field": "t"}
         }},
        {"data": {"name": "pl506"},
         "mark": {"type": "text", "text": "P", "fontSize": 11, "align": "left", "baseline": "middle", "color": "#e4462f"},
         "encoding": {
           "x": {"field": "q", "type": "quantitative", "scale": {"domain": [0, 8000], "nice": false}, "axis": null},
           "y": {"field": "p", "type": "quantitative", "scale": {"domain": [0, 10], "nice": false}, "axis": null}
         }},
        {"data": {"name": "pl506"},
         "mark": {"type": "text", "text": "d", "fontSize": 8.5, "align": "left", "baseline": "middle", "dx": 7.5, "dy": 3, "color": "#e4462f"},
         "encoding": {
           "x": {"field": "q", "type": "quantitative", "scale": {"domain": [0, 8000], "nice": false}, "axis": null},
           "y": {"field": "p", "type": "quantitative", "scale": {"domain": [0, 10], "nice": false}, "axis": null}
         }},
        {"data": {"values": [{}]}, "mark": {"type": "point", "opacity": 0},
         "encoding": {
           "x": {"datum": 0, "type": "quantitative", "scale": {"domain": [0, 1]}, "axis": null},
           "y": {"datum": 0, "type": "quantitative", "scale": {"domain": [0, 98.07], "nice": false},
           "axis": {"orient": "left", "offset": 23, "values": [0,10,20,30,40,50,60,70,80,90], "labelExpr": "datum.value % 20 == 0 ? datum.label : ''", "tickSize": {"condition": {"test": "datum.value % 20 == 0", "value": 4}, "value": 2}, "labelPadding": 3, "grid": false, "title": "Pe (Pa)", "titleAngle": -90, "titleX": -10, "titleY": -25, "titleAlign": "center", "titleBaseline": "middle"}}}},
        {"data": {"values": [{}]}, "mark": {"type": "point", "opacity": 0},
         "encoding": {
           "x": {"datum": 0, "type": "quantitative", "scale": {"domain": [0, 1]}, "axis": null},
           "y": {"datum": 0, "type": "quantitative", "scale": {"domain": [0, 0.3937], "nice": false},
           "axis": {"orient": "right", "values": [0,0.05,0.1,0.15,0.2,0.25,0.3,0.35], "labelExpr": "round(datum.value*20) % 2 == 0 ? replace(format(datum.value, '.1f'), '.', ',') : ''", "tickSize": {"condition": {"test": "round(datum.value*20) % 2 == 0", "value": 3}, "value": 2}, "labelPadding": 3, "grid": false, "title": "Pe (in wg)", "titleAngle": -90, "titleX": 32, "titleY": 22, "titleAlign": "center", "titleBaseline": "middle"}}}},
        {"data": {"values": [{}]}, "mark": {"type": "point", "opacity": 0},
         "encoding": {
           "y": {"datum": 0, "type": "quantitative", "scale": {"domain": [0, 1]}, "axis": null},
           "x": {"datum": 0, "type": "quantitative", "scale": {"domain": [0, 4708.6], "nice": false},
           "axis": {"orient": "top", "values": [0,500,1000,1500,2000,2500,3000,3500,4000,4500], "format": "d", "labelExpr": "datum.value % 1000 == 0 ? datum.label : ''", "tickSize": {"condition": {"test": "datum.value % 1000 == 0", "value": -4}, "value": -2.5}, "labelPadding": 11, "grid": false, "title": "Q (cfm)", "titleX": 298, "titleY": -9, "titleAlign": "left", "titleBaseline": "middle"}}}},
        {"data": {"values": [{}]}, "mark": {"type": "point", "opacity": 0},
         "encoding": {
           "y": {"datum": 0, "type": "quantitative", "scale": {"domain": [0, 1]}, "axis": null},
           "x": {"datum": 0, "type": "quantitative", "scale": {"domain": [0, 2.2222], "nice": false},
           "axis": {"orient": "bottom", "offset": 23, "values": [0,0.25,0.5,0.75,1,1.25,1.5,1.75,2], "labelExpr": "datum.value % 0.5 == 0 ? replace(format(datum.value, '.1f'), '.', ',') : ''", "tickSize": {"condition": {"test": "datum.value % 0.5 == 0", "value": -4}, "value": -2.5}, "labelPadding": 12, "grid": false, "title": "Q (m³/s)", "titleX": 310, "titleY": 11, "titleAlign": "left", "titleBaseline": "middle"}}}},
        {"data": {"values": [{}]}, "mark": {"type": "point", "opacity": 0},
         "encoding": {
           "y": {"datum": 0, "type": "quantitative", "scale": {"domain": [0, 1]}, "axis": null},
           "x": {"datum": 0, "type": "quantitative", "scale": {"domain": [0, 1], "nice": false},
           "axis": {"orient": "top", "labels": false, "ticks": false, "domain": false, "grid": false, "title": "50-6T", "titleX": 275, "titleY": -49, "titleFontSize": 9, "titleFontWeight": "bold", "titleAlign": "center", "titleBaseline": "middle"}}}},
        {"data": {"values": [{}]}, "mark": {"type": "point", "opacity": 0},
         "encoding": {
           "y": {"datum": 0, "type": "quantitative", "scale": {"domain": [0, 1]}, "axis": null},
           "x": {"datum": 0, "type": "quantitative", "scale": {"domain": [0, 2], "nice": false},
           "axis": {"orient": "top", "labels": false, "ticks": false, "domain": false, "grid": false, "title": "Статическое и динамическое давления", "titleX": 146, "titleY": -31, "titleFontSize": 10, "titleFontWeight": "bold", "titleAlign": "center", "titleBaseline": "middle"}}}}
      ]
    },
    {
      "width": 286, "height": 305,
      "resolve": {"scale": {"x": "independent", "y": "independent"}},
      "layer": [
        {"data": {"name": "c564"},
         "mark": {"type": "line", "color": "#000", "strokeWidth": 1.7, "interpolate": "monotone", "clip": true},
         "encoding": {
           "x": {"field": "q", "type": "quantitative", "scale": {"domain": [0, 18000], "nice": false},
             "axis": {"orient": "bottom", "values": [0,1000,2000,3000,4000,5000,6000,7000,8000,9000,10000,11000,12000,13000,14000,15000,16000,17000,18000], "format": "d", "labelExpr": "datum.value % 2000 == 0 ? datum.label : ''", "grid": true, "tickSize": 3, "labelPadding": 6, "title": "Q (m³/h)", "titleX": 303, "titleY": 10, "titleAlign": "left", "titleBaseline": "middle", "titleAngle": 0}},
           "y": {"field": "p", "type": "quantitative", "scale": {"domain": [0, 30], "nice": false},
             "axis": {"orient": "left", "values": [0,2.5,5,7.5,10,12.5,15,17.5,20,22.5,25,27.5,30], "labelExpr": "datum.value % 5 == 0 ? datum.label : ''", "grid": true, "tickSize": 3, "labelPadding": 4, "title": ["Pe", "(mmH₂O)"], "titleAngle": -90, "titleX": -8, "titleY": -29, "titleAlign": "center", "titleBaseline": "middle", "titleLineHeight": 13}},
           "detail": {"field": "a", "type": "nominal"}
         }},
        {"data": {"name": "pd564"},
         "mark": {"type": "line", "color": "#e4462f", "strokeWidth": 1.3, "interpolate": "monotone"},
         "encoding": {
           "x": {"field": "q", "type": "quantitative", "scale": {"domain": [0, 18000], "nice": false}, "axis": null},
           "y": {"field": "p", "type": "quantitative", "scale": {"domain": [0, 30], "nice": false}, "axis": null}
         }},
        {"data": {"name": "l564"},
         "mark": {"type": "text", "fontSize": 7, "align": "center", "baseline": "middle", "color": "#000"},
         "encoding": {
           "x": {"field": "q", "type": "quantitative", "scale": {"domain": [0, 18000], "nice": false}, "axis": null},
           "y": {"field": "p", "type": "quantitative", "scale": {"domain": [0, 30], "nice": false}, "axis": null},
           "text": {"field": "t"}
         }},
        {"data": {"name": "pl564"},
         "mark": {"type": "text", "text": "P", "fontSize": 11, "align": "left", "baseline": "middle", "color": "#e4462f"},
         "encoding": {
           "x": {"field": "q", "type": "quantitative", "scale": {"domain": [0, 18000], "nice": false}, "axis": null},
           "y": {"field": "p", "type": "quantitative", "scale": {"domain": [0, 30], "nice": false}, "axis": null}
         }},
        {"data": {"name": "pl564"},
         "mark": {"type": "text", "text": "d", "fontSize": 8.5, "align": "left", "baseline": "middle", "dx": 7.5, "dy": 3, "color": "#e4462f"},
         "encoding": {
           "x": {"field": "q", "type": "quantitative", "scale": {"domain": [0, 18000], "nice": false}, "axis": null},
           "y": {"field": "p", "type": "quantitative", "scale": {"domain": [0, 30], "nice": false}, "axis": null}
         }},
        {"data": {"values": [{}]}, "mark": {"type": "point", "opacity": 0},
         "encoding": {
           "x": {"datum": 0, "type": "quantitative", "scale": {"domain": [0, 1]}, "axis": null},
           "y": {"datum": 0, "type": "quantitative", "scale": {"domain": [0, 294.2], "nice": false},
           "axis": {"orient": "left", "offset": 23, "values": [0,25,50,75,100,125,150,175,200,225,250,275], "labelExpr": "datum.value % 50 == 0 ? datum.label : ''", "tickSize": {"condition": {"test": "datum.value % 50 == 0", "value": 4}, "value": 2}, "labelPadding": 3, "grid": false, "title": "Pe (Pa)", "titleAngle": -90, "titleX": -10, "titleY": -25, "titleAlign": "center", "titleBaseline": "middle"}}}},
        {"data": {"values": [{}]}, "mark": {"type": "point", "opacity": 0},
         "encoding": {
           "x": {"datum": 0, "type": "quantitative", "scale": {"domain": [0, 1]}, "axis": null},
           "y": {"datum": 0, "type": "quantitative", "scale": {"domain": [0, 1.1811], "nice": false},
           "axis": {"orient": "right", "values": [0,0.1,0.2,0.3,0.4,0.5,0.6,0.7,0.8,0.9,1,1.1], "labelExpr": "round(datum.value*10) % 2 == 0 ? replace(format(datum.value, '.1f'), '.', ',') : ''", "tickSize": {"condition": {"test": "round(datum.value*10) % 2 == 0", "value": 3}, "value": 2}, "labelPadding": 3, "grid": false, "title": "Pe (in wg)", "titleAngle": -90, "titleX": 32, "titleY": 22, "titleAlign": "center", "titleBaseline": "middle"}}}},
        {"data": {"values": [{}]}, "mark": {"type": "point", "opacity": 0},
         "encoding": {
           "y": {"datum": 0, "type": "quantitative", "scale": {"domain": [0, 1]}, "axis": null},
           "x": {"datum": 0, "type": "quantitative", "scale": {"domain": [0, 10594], "nice": false},
           "axis": {"orient": "top", "values": [0,1000,2000,3000,4000,5000,6000,7000,8000,9000,10000], "format": "d", "labelExpr": "datum.value % 2000 == 0 ? datum.label : ''", "tickSize": {"condition": {"test": "datum.value % 2000 == 0", "value": -4}, "value": -2.5}, "labelPadding": 11, "grid": false, "title": "Q (cfm)", "titleX": 298, "titleY": -9, "titleAlign": "left", "titleBaseline": "middle"}}}},
        {"data": {"values": [{}]}, "mark": {"type": "point", "opacity": 0},
         "encoding": {
           "y": {"datum": 0, "type": "quantitative", "scale": {"domain": [0, 1]}, "axis": null},
           "x": {"datum": 0, "type": "quantitative", "scale": {"domain": [0, 5], "nice": false},
           "axis": {"orient": "bottom", "offset": 26, "values": [0,0.5,1,1.5,2,2.5,3,3.5,4,4.5,5], "format": "d", "labelExpr": "datum.value % 1 == 0 ? datum.label : ''", "tickSize": {"condition": {"test": "datum.value % 1 == 0", "value": -4}, "value": -2.5}, "labelPadding": 12, "grid": false, "title": "Q (m³/s)", "titleX": 310, "titleY": 11, "titleAlign": "left", "titleBaseline": "middle"}}}},
        {"data": {"values": [{}]}, "mark": {"type": "point", "opacity": 0},
         "encoding": {
           "y": {"datum": 0, "type": "quantitative", "scale": {"domain": [0, 1]}, "axis": null},
           "x": {"datum": 0, "type": "quantitative", "scale": {"domain": [0, 1], "nice": false},
           "axis": {"orient": "top", "labels": false, "ticks": false, "domain": false, "grid": false, "title": "56-4T", "titleX": 275, "titleY": -49, "titleFontSize": 9, "titleFontWeight": "bold", "titleAlign": "center", "titleBaseline": "middle"}}}},
        {"data": {"values": [{}]}, "mark": {"type": "point", "opacity": 0},
         "encoding": {
           "y": {"datum": 0, "type": "quantitative", "scale": {"domain": [0, 1]}, "axis": null},
           "x": {"datum": 0, "type": "quantitative", "scale": {"domain": [0, 2], "nice": false},
           "axis": {"orient": "top", "labels": false, "ticks": false, "domain": false, "grid": false, "title": "Статическое и динамическое давления", "titleX": 146, "titleY": -31, "titleFontSize": 10, "titleFontWeight": "bold", "titleAlign": "center", "titleBaseline": "middle"}}}}
      ]
    },
    {
      "width": 286, "height": 305,
      "resolve": {"scale": {"x": "independent", "y": "independent"}},
      "layer": [
        {"data": {"name": "c566"},
         "mark": {"type": "line", "color": "#000", "strokeWidth": 1.7, "interpolate": "monotone", "clip": true},
         "encoding": {
           "x": {"field": "q", "type": "quantitative", "scale": {"domain": [0, 12000], "nice": false},
             "axis": {"orient": "bottom", "values": [0,1000,2000,3000,4000,5000,6000,7000,8000,9000,10000,11000,12000], "format": "d", "labelExpr": "datum.value % 2000 == 0 ? datum.label : ''", "grid": true, "tickSize": 3, "labelPadding": 6, "title": "Q (m³/h)", "titleX": 303, "titleY": 10, "titleAlign": "left", "titleBaseline": "middle", "titleAngle": 0}},
           "y": {"field": "p", "type": "quantitative", "scale": {"domain": [0, 12], "nice": false},
             "axis": {"orient": "left", "values": [0,1,2,3,4,5,6,7,8,9,10,11,12], "labelExpr": "datum.value % 2 == 0 ? datum.label : ''", "grid": true, "tickSize": 3, "labelPadding": 4, "title": ["Pe", "(mmH₂O)"], "titleAngle": -90, "titleX": -8, "titleY": -29, "titleAlign": "center", "titleBaseline": "middle", "titleLineHeight": 13}},
           "detail": {"field": "a", "type": "nominal"}
         }},
        {"data": {"name": "pd566"},
         "mark": {"type": "line", "color": "#e4462f", "strokeWidth": 1.3, "interpolate": "monotone"},
         "encoding": {
           "x": {"field": "q", "type": "quantitative", "scale": {"domain": [0, 12000], "nice": false}, "axis": null},
           "y": {"field": "p", "type": "quantitative", "scale": {"domain": [0, 12], "nice": false}, "axis": null}
         }},
        {"data": {"name": "wm566"},
         "mark": {"type": "text", "fontSize": 40, "fontStyle": "italic", "align": "center", "baseline": "middle", "fill": "#ffffff", "fillOpacity": 0.6, "stroke": "#9c9c9c", "strokeWidth": 1},
         "encoding": {
           "x": {"field": "q", "type": "quantitative", "scale": {"domain": [0, 12000], "nice": false}, "axis": null},
           "y": {"field": "p", "type": "quantitative", "scale": {"domain": [0, 12], "nice": false}, "axis": null},
           "text": {"field": "t"}
         }},
        {"data": {"name": "l566"},
         "mark": {"type": "text", "fontSize": 7, "align": "center", "baseline": "middle", "color": "#000"},
         "encoding": {
           "x": {"field": "q", "type": "quantitative", "scale": {"domain": [0, 12000], "nice": false}, "axis": null},
           "y": {"field": "p", "type": "quantitative", "scale": {"domain": [0, 12], "nice": false}, "axis": null},
           "text": {"field": "t"}
         }},
        {"data": {"name": "pl566"},
         "mark": {"type": "text", "text": "P", "fontSize": 11, "align": "left", "baseline": "middle", "color": "#e4462f"},
         "encoding": {
           "x": {"field": "q", "type": "quantitative", "scale": {"domain": [0, 12000], "nice": false}, "axis": null},
           "y": {"field": "p", "type": "quantitative", "scale": {"domain": [0, 12], "nice": false}, "axis": null}
         }},
        {"data": {"name": "pl566"},
         "mark": {"type": "text", "text": "d", "fontSize": 8.5, "align": "left", "baseline": "middle", "dx": 7.5, "dy": 3, "color": "#e4462f"},
         "encoding": {
           "x": {"field": "q", "type": "quantitative", "scale": {"domain": [0, 12000], "nice": false}, "axis": null},
           "y": {"field": "p", "type": "quantitative", "scale": {"domain": [0, 12], "nice": false}, "axis": null}
         }},
        {"data": {"values": [{}]}, "mark": {"type": "point", "opacity": 0},
         "encoding": {
           "x": {"datum": 0, "type": "quantitative", "scale": {"domain": [0, 1]}, "axis": null},
           "y": {"datum": 0, "type": "quantitative", "scale": {"domain": [0, 117.68], "nice": false},
           "axis": {"orient": "left", "offset": 26, "values": [0,10,20,30,40,50,60,70,80,90,100,110], "labelExpr": "datum.value % 20 == 0 ? datum.label : ''", "tickSize": {"condition": {"test": "datum.value % 20 == 0", "value": 4}, "value": 2}, "labelPadding": 3, "grid": false, "title": "Pe (Pa)", "titleAngle": -90, "titleX": -10, "titleY": -25, "titleAlign": "center", "titleBaseline": "middle"}}}},
        {"data": {"values": [{}]}, "mark": {"type": "point", "opacity": 0},
         "encoding": {
           "x": {"datum": 0, "type": "quantitative", "scale": {"domain": [0, 1]}, "axis": null},
           "y": {"datum": 0, "type": "quantitative", "scale": {"domain": [0, 0.47244], "nice": false},
           "axis": {"orient": "right", "values": [0,0.05,0.1,0.15,0.2,0.25,0.3,0.35,0.4,0.45], "labelExpr": "round(datum.value*20) % 2 == 0 ? replace(format(datum.value, '.1f'), '.', ',') : ''", "tickSize": {"condition": {"test": "round(datum.value*20) % 2 == 0", "value": 3}, "value": 2}, "labelPadding": 3, "grid": false, "title": "Pe (in wg)", "titleAngle": -90, "titleX": 32, "titleY": 22, "titleAlign": "center", "titleBaseline": "middle"}}}},
        {"data": {"values": [{}]}, "mark": {"type": "point", "opacity": 0},
         "encoding": {
           "y": {"datum": 0, "type": "quantitative", "scale": {"domain": [0, 1]}, "axis": null},
           "x": {"datum": 0, "type": "quantitative", "scale": {"domain": [0, 7063], "nice": false},
           "axis": {"orient": "top", "values": [0,1000,2000,3000,4000,5000,6000,7000], "format": "d", "labelExpr": "datum.value % 2000 == 0 ? datum.label : ''", "tickSize": {"condition": {"test": "datum.value % 2000 == 0", "value": -4}, "value": -2.5}, "labelPadding": 11, "grid": false, "title": "Q (cfm)", "titleX": 298, "titleY": -9, "titleAlign": "left", "titleBaseline": "middle"}}}},
        {"data": {"values": [{}]}, "mark": {"type": "point", "opacity": 0},
         "encoding": {
           "y": {"datum": 0, "type": "quantitative", "scale": {"domain": [0, 1]}, "axis": null},
           "x": {"datum": 0, "type": "quantitative", "scale": {"domain": [0, 3.3333], "nice": false},
           "axis": {"orient": "bottom", "offset": 23, "values": [0,0.25,0.5,0.75,1,1.25,1.5,1.75,2,2.25,2.5,2.75,3,3.25], "labelExpr": "datum.value % 0.5 == 0 ? replace(format(datum.value, '.1f'), '.', ',') : ''", "tickSize": {"condition": {"test": "datum.value % 0.5 == 0", "value": -4}, "value": -2.5}, "labelPadding": 12, "grid": false, "title": "Q (m³/s)", "titleX": 310, "titleY": 11, "titleAlign": "left", "titleBaseline": "middle"}}}},
        {"data": {"values": [{}]}, "mark": {"type": "point", "opacity": 0},
         "encoding": {
           "y": {"datum": 0, "type": "quantitative", "scale": {"domain": [0, 1]}, "axis": null},
           "x": {"datum": 0, "type": "quantitative", "scale": {"domain": [0, 1], "nice": false},
           "axis": {"orient": "top", "labels": false, "ticks": false, "domain": false, "grid": false, "title": "56-6T", "titleX": 275, "titleY": -49, "titleFontSize": 9, "titleFontWeight": "bold", "titleAlign": "center", "titleBaseline": "middle"}}}},
        {"data": {"values": [{}]}, "mark": {"type": "point", "opacity": 0},
         "encoding": {
           "y": {"datum": 0, "type": "quantitative", "scale": {"domain": [0, 1]}, "axis": null},
           "x": {"datum": 0, "type": "quantitative", "scale": {"domain": [0, 2], "nice": false},
           "axis": {"orient": "top", "labels": false, "ticks": false, "domain": false, "grid": false, "title": "Статическое и динамическое давления", "titleX": 146, "titleY": -31, "titleFontSize": 10, "titleFontWeight": "bold", "titleAlign": "center", "titleBaseline": "middle"}}}}
      ]
    }
  ]
}
